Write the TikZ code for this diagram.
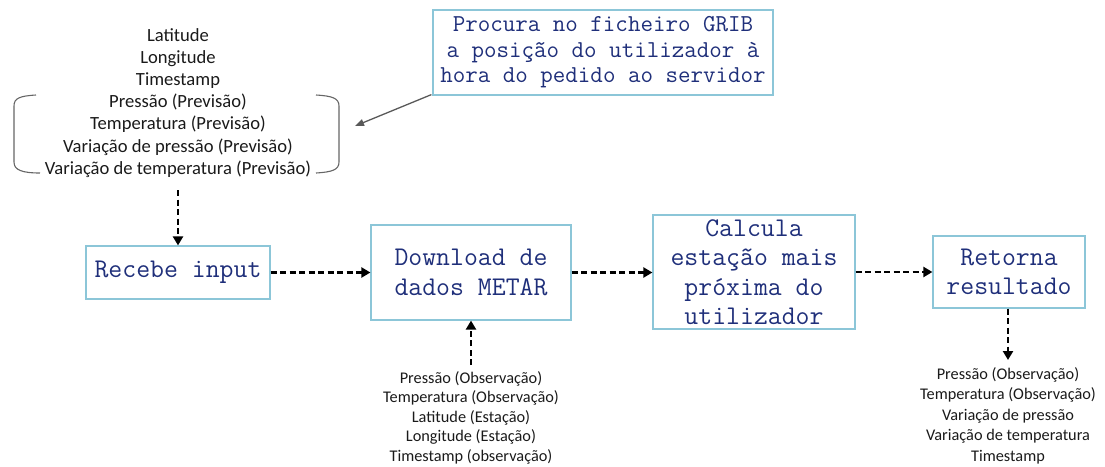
\documentclass[tikz,border=0pt]{standalone}
\usepackage{fontspec}
\setmainfont{Carlito}
\setmonofont{Latin Modern Mono}
\usetikzlibrary{arrows.meta}
\definecolor{boxline}{HTML}{8CC6D8}
\definecolor{boxtext}{HTML}{1F2F7A}
\definecolor{txt}{HTML}{1A1A1A}
\tikzset{
  procbox/.style={draw=boxline, line width=1.2pt, align=center, text=boxtext, inner sep=0pt,
    font=\ttfamily\fontsize{27}{29.5}\selectfont},
  infotext/.style={align=center, text=txt, inner sep=0pt},
  flow/.style={draw=black, line width=2.8pt, dash pattern=on 6pt off 3.5pt,
    -{Triangle[length=9pt,width=10pt]}},
  pointer/.style={draw=black!65, line width=1.3pt, -{Triangle[length=9pt,width=7pt]}},
  bracket/.style={draw=black!60, line width=1.1pt}
}
\begin{document}
\begin{tikzpicture}[x=1pt,y=-1pt]
\useasboundingbox (0,0) rectangle (1105,466);
% process boxes
\node[procbox, minimum width=184pt, minimum height=53pt] (recebe) at (178,272.5) {Recebe input};
\node[procbox, minimum width=200pt, minimum height=95pt] (download) at (471,272.5) {Download de\\dados METAR};
\node[procbox, minimum width=202pt, minimum height=114pt] (calcula) at (754,272) {Calcula\\estação mais\\próxima do\\utilizador};
\node[procbox, minimum width=152pt, minimum height=72pt] (retorna) at (1009,272) {Retorna\\resultado};
\node[procbox, minimum width=340pt, minimum height=85pt, font=\ttfamily\fontsize{24.3}{25.5}\selectfont] (procura) at (603,52.5) {Procura no ficheiro GRIB\\a posição do utilizador à\\hora do pedido ao servidor};
% text blocks
\node[infotext, font=\fontsize{18.6}{22.2}\selectfont, anchor=north] (input) at (178,28) {Latitude\\Longitude\\Timestamp\\Pressão (Previsão)\\Temperatura (Previsão)\\Variação de pressão (Previsão)\\Variação de temperatura (Previsão)};
\node[infotext, font=\fontsize{16.3}{19.5}\selectfont, anchor=north] (metar) at (471,371) {Pressão (Observação)\\Temperatura (Observação)\\Latitude (Estação)\\Longitude (Estação)\\Timestamp (observação)};
\node[infotext, font=\fontsize{16.3}{20.6}\selectfont, anchor=north] (result) at (1008,367) {Pressão (Observação)\\Temperatura (Observação)\\Variação de pressão\\Variação de temperatura\\Timestamp};
% brackets
\draw[bracket] (36,95) .. controls (20,96) and (14,98) .. (14,106) -- (14,162) .. controls (14,170) and (22,173) .. (40,173);
\draw[bracket] (316,95) .. controls (332,96) and (339,98) .. (339,106) -- (339,162) .. controls (339,170) and (332,172) .. (316,173);
% connectors
\coordinate (inbot) at (178,190);
\coordinate (metartop) at (471,365);
\coordinate (resulttop) at (1008,360);
\coordinate (brk) at (355,126);
\draw[flow] (inbot) -- (recebe.north);
\draw[flow] (recebe.east) -- (download.west);
\draw[flow] (download.east) -- (calcula.west |- download.east);
\draw[flow] (calcula.east) -- (retorna.west |- calcula.east);
\draw[flow] (metartop) -- (download.south);
\draw[flow] (retorna.south -| resulttop) -- (resulttop);
\draw[pointer] (procura.south west) ++(-1,-1) -- (brk);
\end{tikzpicture}
\end{document}
